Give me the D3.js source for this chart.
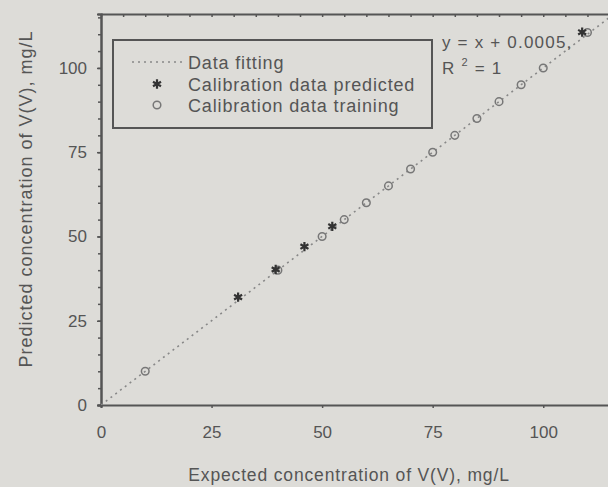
<!DOCTYPE html>
<html>
<head>
<meta charset="utf-8">
<script src="https://cdn.jsdelivr.net/npm/d3@7"></script>
<style>
  html, body { margin: 0; padding: 0; background: #dddcd8; }
  svg { display: block; }
  text { font-family: "Liberation Sans", Arial, sans-serif; fill: #555; }
</style>
</head>
<body>
<svg id="viz"></svg>
<script>
var width = 608;
var height = 487;

// ====================================================
// Data
// ====================================================
var trainingExpected  = [10, 40, 50, 55, 60, 65, 70, 75, 80, 85, 90, 95, 100, 110];
var trainingPredicted = [10, 40, 50, 55, 60, 65, 70, 75, 80, 85, 90, 95, 100, 110.5];

var predictedExpected = [31, 39.5, 46, 52.3, 108.8];
var predictedValues   = [32, 40.2, 47, 53, 110.6];

var fitX = [0, 116];
var fitY = [0.0005, 116.0005];

var xTicks = [0, 25, 50, 75, 100];
var yTicks = [0, 25, 50, 75, 100];
var minorTicks = d3.range(0, 116, 5);

var legendLabels = ["Data fitting", "Calibration data predicted", "Calibration data training"];

// ====================================================
// Scales
// ====================================================
var margin = { left: 101, top: 14, right: -6, bottom: 82 };

var x = d3.scaleLinear().domain([0, 116]).range([margin.left, width - margin.right]);
var y = d3.scaleLinear().domain([0, 116]).range([height - margin.bottom, margin.top]);

var svg = d3.select("#viz")
  .attr("width", width)
  .attr("height", height);

svg.append("defs").append("clipPath")
  .attr("id", "plot-clip")
  .append("rect")
  .attr("x", x(0))
  .attr("y", y(116))
  .attr("width", x(116) - x(0))
  .attr("height", y(0) - y(116));

// ====================================================
// Axes
// ====================================================
var xAxis = svg.append("g")
  .attr("transform", "translate(0," + y(0) + ")")
  .call(d3.axisBottom(x).tickValues(xTicks).tickSize(3).tickPadding(18));

var yAxis = svg.append("g")
  .attr("transform", "translate(" + x(0) + ",0)")
  .call(d3.axisLeft(y).tickValues(yTicks).tickSize(4).tickPadding(10));

// minor ticks on the left and top
svg.append("g")
  .attr("transform", "translate(" + x(0) + ",0)")
  .call(d3.axisLeft(y).tickValues(minorTicks).tickSize(3).tickFormat(""));

svg.append("g")
  .attr("transform", "translate(0," + y(116) + ")")
  .call(d3.axisTop(x).tickValues(minorTicks).tickSizeInner(-3).tickSizeOuter(0).tickFormat(""));

[xAxis, yAxis].forEach(function (g) {
  g.selectAll("text")
    .style("font-size", "17px")
    .attr("fill", "#555");
});

svg.selectAll(".domain")
  .attr("stroke", "#555")
  .attr("stroke-width", 2);
svg.selectAll(".tick line")
  .attr("stroke", "#555")
  .attr("stroke-width", 1.5);

// axis titles
svg.append("text")
  .attr("x", 349)
  .attr("y", 481)
  .attr("text-anchor", "middle")
  .style("font-size", "17.5px")
  .style("letter-spacing", "0.85px")
  .text("Expected concentration of V(V), mg/L");

svg.append("text")
  .attr("transform", "translate(32,199) rotate(-90)")
  .attr("text-anchor", "middle")
  .style("font-size", "18px")
  .style("letter-spacing", "1px")
  .text("Predicted concentration of V(V), mg/L");

// ====================================================
// Fit line + points
// ====================================================
var plot = svg.append("g").attr("clip-path", "url(#plot-clip)");

plot.append("path")
  .datum(d3.zip(fitX, fitY))
  .attr("fill", "none")
  .attr("stroke", "#888")
  .attr("stroke-width", 1.6)
  .attr("stroke-dasharray", "2,4")
  .attr("d", d3.line().x(d => x(d[0])).y(d => y(d[1])));

plot.append("g")
  .selectAll("circle")
  .data(d3.zip(trainingExpected, trainingPredicted))
  .join("circle")
  .attr("cx", d => x(d[0]))
  .attr("cy", d => y(d[1]))
  .attr("r", 3.8)
  .attr("fill", "none")
  .attr("stroke", "#777")
  .attr("stroke-width", 1.5);

var star = d3.symbol().type(d3.symbolAsterisk).size(60);

plot.append("g")
  .selectAll("path")
  .data(d3.zip(predictedExpected, predictedValues))
  .join("path")
  .attr("transform", d => "translate(" + x(d[0]) + "," + y(d[1]) + ")")
  .attr("d", star)
  .attr("fill", "none")
  .attr("stroke", "#333")
  .attr("stroke-width", 2.2);

// ====================================================
// Legend
// ====================================================
var legend = svg.append("g");

legend.append("rect")
  .attr("x", 113)
  .attr("y", 40)
  .attr("width", 319)
  .attr("height", 88)
  .attr("fill", "none")
  .attr("stroke", "#555")
  .attr("stroke-width", 2);

var rowY = [62, 84, 105];

legend.append("line")
  .attr("x1", 132).attr("x2", 182)
  .attr("y1", rowY[0]).attr("y2", rowY[0])
  .attr("stroke", "#888")
  .attr("stroke-width", 1.6)
  .attr("stroke-dasharray", "2,4");

legend.append("path")
  .attr("transform", "translate(157," + rowY[1] + ")")
  .attr("d", star)
  .attr("fill", "none")
  .attr("stroke", "#333")
  .attr("stroke-width", 2.2);

legend.append("circle")
  .attr("cx", 157)
  .attr("cy", rowY[2])
  .attr("r", 3.8)
  .attr("fill", "none")
  .attr("stroke", "#777")
  .attr("stroke-width", 1.5);

legend.selectAll("text.lbl")
  .data(legendLabels)
  .join("text")
  .attr("class", "lbl")
  .attr("x", 188)
  .attr("y", (d, i) => rowY[i] + 6.5)
  .style("font-size", "18px")
  .style("letter-spacing", "0.85px")
  .text(d => d);

// regression annotation
svg.append("text")
  .attr("x", 442)
  .attr("y", 48)
  .style("font-size", "17px")
  .style("letter-spacing", "1.2px")
  .text("y = x + 0.0005,");

var r2 = svg.append("text")
  .attr("x", 442)
  .attr("y", 74)
  .style("font-size", "17px")
  .style("letter-spacing", "1.2px");
r2.append("tspan").text("R ");
r2.append("tspan").attr("dy", -8).style("font-size", "11px").text("2");
r2.append("tspan").attr("dy", 8).text(" = 1");
</script>
</body>
</html>
